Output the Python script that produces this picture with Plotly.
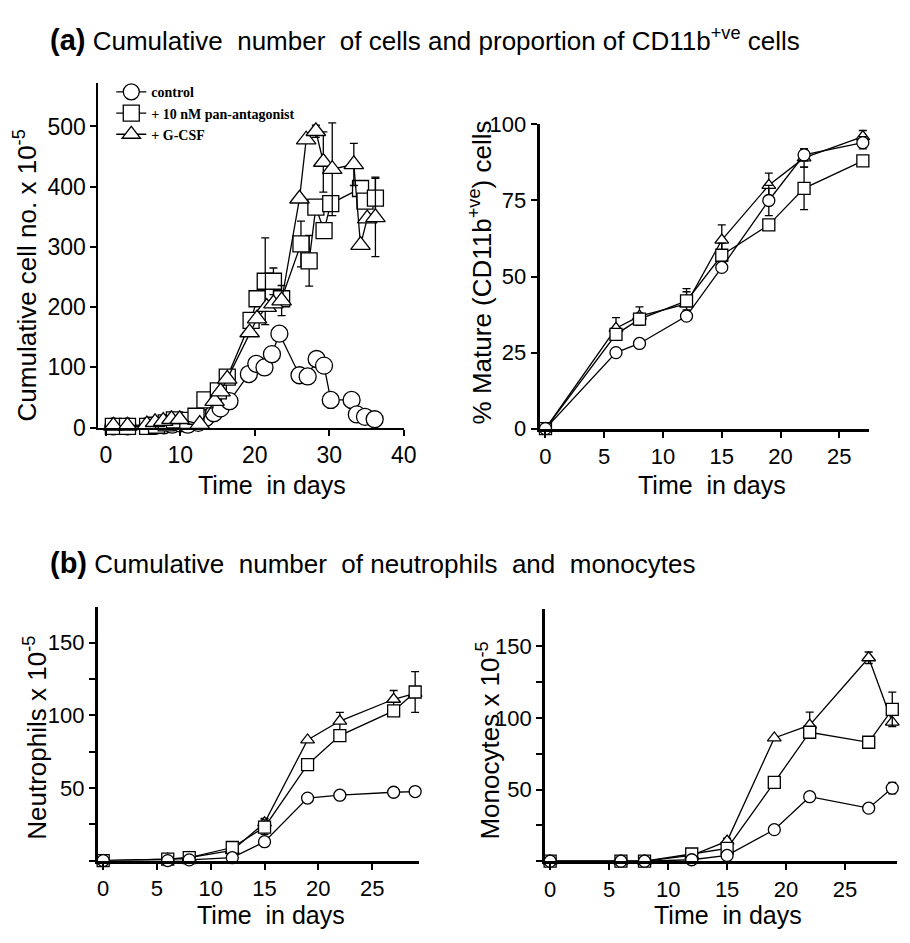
import plotly.graph_objects as go

# ---------------- Data ----------------
# (a) left: cumulative cell number x 10^-5
ctrl_day_a = [1.0, 2.9, 5.6, 6.7, 7.8, 8.9, 10.0, 11.0, 12.4, 13.4, 14.5, 15.4, 16.6, 19.2, 20.2, 21.3, 22.3, 23.3, 26.0, 27.1, 28.3, 29.3, 30.2, 33.0, 33.7, 34.8, 36.1]
ctrl_val_a = [2, 2, 3, 3, 4, 5, 7, 5, 8, 16, 24, 32, 44, 89, 106, 100, 122, 156, 87, 85, 114, 103, 46, 46, 22, 18, 14]
ctrl_err_a = [0] * 27

pan_day_a = [1.0, 2.9, 5.6, 6.8, 8.1, 9.2, 11.0, 12.1, 13.3, 15.1, 16.3, 19.5, 20.3, 21.4, 22.5, 23.6, 26.2, 27.3, 28.2, 29.3, 30.2, 34.2, 34.8, 36.2]
pan_val_a = [2, 2, 2, 4, 8, 13, 12, 19, 46, 61, 84, 178, 214, 243, 243, 214, 305, 277, 366, 327, 372, 397, 376, 381]
pan_err_a = [0, 0, 0, 0, 0, 0, 0, 0, 0, 0, 0, 0, 0, 72, 22, 0, 38, 42, 0, 0, 0, 0, 0, 35]

gcsf_day_a = [1.0, 2.9, 5.5, 6.6, 7.7, 8.8, 9.9, 12.6, 14.6, 15.4, 16.3, 19.3, 20.3, 21.6, 22.5, 23.6, 26.0, 26.9, 28.2, 29.2, 30.4, 33.3, 34.2, 35.1, 36.2]
gcsf_val_a = [3, 3, 5, 9, 11, 14, 14, 6, 44, 60, 81, 158, 181, 200, 206, 211, 380, 478, 492, 441, 429, 437, 303, 347, 349]
gcsf_err_a = [0, 0, 0, 0, 0, 0, 0, 0, 0, 0, 0, 0, 0, 0, 0, 25, 0, 0, 10, 50, 77, 35, 0, 0, 65]

# (a) right: % mature (CD11b+ve) cells
days_m = [0, 6, 8, 12, 15, 19, 22, 27]
ctrl_m = [0, 25, 28, 37, 53, 75, 90, 94]
pan_m = [0, 31, 36, 42, 57, 67, 79, 88]
gcsf_m = [0, 33, 37, 41, 62, 80, 89, 96]
ctrl_m_err = [0, 0, 0, 0, 0, 5, 2, 2]
pan_m_err = [0, 0, 2, 3, 4, 0, 7, 0]
gcsf_m_err = [0, 3.5, 3, 5, 5, 4, 3, 2]

# (b) neutrophils and monocytes x 10^-5
days_b = [0, 6, 8, 12, 15, 19, 22, 27, 29]
ctrl_neu = [0, 0, 0.5, 2, 13, 43, 45, 47, 47.5]
pan_neu = [0, 1, 2, 9, 23, 66, 86, 103, 116]
gcsf_neu = [0, 1, 2, 7, 26, 83, 96, 111, 115]
ctrl_neu_err = [0] * 9
pan_neu_err = [0, 0, 0, 0, 5, 0, 0, 0, 14]
gcsf_neu_err = [0, 0, 0, 0, 3, 0, 6, 6, 0]

ctrl_mono = [0, 0, 0, 1, 4, 22, 45, 37, 51]
pan_mono = [0, 0, 0, 5, 9, 55, 90, 83, 106]
gcsf_mono = [0, 0, 0, 4, 14, 86, 95, 142, 97]
ctrl_mono_err = [0, 0, 0, 0, 0, 0, 0, 0, 4]
pan_mono_err = [0, 0, 0, 0, 0, 0, 0, 3, 12]
gcsf_mono_err = [0, 0, 0, 0, 2, 0, 9, 4, 0]

legend_names = ["control", "+ 10 nM pan-antagonist", "+ G-CSF"]
symbols = ["circle", "square", "triangle-up"]

W, H = 910, 943
FONT = "Liberation Sans, Arial, sans-serif"

fig = go.Figure()


def add(x, y, err, sym, size, xa, ya, name=None, show=False):
    fig.add_trace(go.Scatter(
        x=x, y=y, mode="lines+markers",
        name=name, showlegend=show,
        xaxis=xa, yaxis=ya,
        line=dict(color="black", width=1.3),
        marker=dict(symbol=sym, size=size, color="white",
                    line=dict(color="black", width=1.3)),
        error_y=dict(type="data", array=err, visible=True, symmetric=True,
                     color="black", thickness=1.3, width=4),
        cliponaxis=False,
    ))


# panel 1 (top-left)
add(ctrl_day_a, ctrl_val_a, ctrl_err_a, symbols[0], 17, "x", "y", "<b>" + legend_names[0] + "</b>", True)
add(pan_day_a, pan_val_a, pan_err_a, symbols[1], 16, "x", "y", "<b>" + legend_names[1] + "</b>", True)
add(gcsf_day_a, gcsf_val_a, gcsf_err_a, symbols[2], 17, "x", "y", "<b>" + legend_names[2] + "</b>", True)

# panel 2 (top-right)
add(days_m, gcsf_m, gcsf_m_err, symbols[2], 12, "x2", "y2")
add(days_m, pan_m, pan_m_err, symbols[1], 12, "x2", "y2")
add(days_m, ctrl_m, ctrl_m_err, symbols[0], 12, "x2", "y2")

# panel 3 (bottom-left)
add(days_b, gcsf_neu, gcsf_neu_err, symbols[2], 12, "x3", "y3")
add(days_b, pan_neu, pan_neu_err, symbols[1], 12, "x3", "y3")
add(days_b, ctrl_neu, ctrl_neu_err, symbols[0], 12, "x3", "y3")

# panel 4 (bottom-right)
add(days_b, gcsf_mono, gcsf_mono_err, symbols[2], 12, "x4", "y4")
add(days_b, pan_mono, pan_mono_err, symbols[1], 12, "x4", "y4")
add(days_b, ctrl_mono, ctrl_mono_err, symbols[0], 12, "x4", "y4")


def px_x(p):
    return p / W


def px_y(p):
    return (H - p) / H


def ax(size, lw):
    return dict(showline=True, linecolor="black", linewidth=lw, ticks="outside", ticklen=6,
                tickwidth=2, tickcolor="black", showgrid=False, zeroline=False,
                tickfont=dict(family=FONT, size=size, color="black"))


minor_b = dict(tickvals=[0, 25, 75, 125], ticks="outside", ticklen=6, tickwidth=2,
               tickcolor="black", showgrid=False)

fig.update_layout(
    width=W, height=H, margin=dict(l=0, r=0, t=0, b=0),
    paper_bgcolor="white", plot_bgcolor="white",
    xaxis=dict(domain=[px_x(99), px_x(409)], range=[-1, 40], tickvals=[0, 10, 20, 30, 40],
               anchor="y", **ax(23, 2)),
    yaxis=dict(domain=[px_y(427), px_y(73)], range=[0, 572], tickvals=[0, 100, 200, 300, 400, 500],
               anchor="x", **ax(23, 2)),
    xaxis2=dict(domain=[px_x(547), px_x(882)], range=[-0.5, 27.56], tickvals=[0, 5, 10, 15, 20, 25],
                anchor="y2", **ax(22, 3)),
    yaxis2=dict(domain=[px_y(428), px_y(115.5)], range=[0, 100], tickvals=[0, 25, 50, 75, 100],
                anchor="x2", **ax(22, 3)),
    xaxis3=dict(domain=[px_x(98.3), px_x(425)], range=[-0.5, 29.4], tickvals=[0, 5, 10, 15, 20, 25],
                anchor="y3", **ax(22, 3)),
    yaxis3=dict(domain=[px_y(871.7), px_y(611)], range=[0, 174.6],
                tickvals=[50, 100, 150], minor=minor_b,
                anchor="x3", **ax(22, 3)),
    xaxis4=dict(domain=[px_x(552.7), 1.0], range=[-0.42, 29.4], tickvals=[0, 5, 10, 15, 20, 25],
                anchor="y4", **ax(22, 3)),
    yaxis4=dict(domain=[px_y(872.3), px_y(613.3)], range=[0, 176],
                tickvals=[50, 100, 150], minor=minor_b,
                anchor="x4", **ax(22, 3)),
    legend=dict(x=px_x(112), y=px_y(66), xanchor="left", yanchor="top",
                bgcolor="rgba(0,0,0,0)", borderwidth=0,
                font=dict(family="Liberation Serif, Times New Roman, serif", size=14, color="black"),
                itemwidth=30, tracegroupgap=0),
)

annots = []
TF = dict(family=FONT, size=26, color="black")
HF = dict(family=FONT, size=26, color="black")
# headings
annots.append(dict(x=px_x(48), y=px_y(28), xref="paper", yref="paper", xanchor="left", yanchor="middle",
                   showarrow=False, font=HF,
                   text="<b><span style='font-size:29px'>(a)</span></b> Cumulative\u00a0 number\u00a0 of cells and proportion of CD11b<sup>+ve</sup> cells"))
annots.append(dict(x=px_x(48), y=px_y(566), xref="paper", yref="paper", xanchor="left", yanchor="middle",
                   showarrow=False, font=HF,
                   text="<b><span style='font-size:29px'>(b)</span></b> Cumulative\u00a0 number\u00a0 of neutrophils\u00a0 and\u00a0 monocytes"))
# y titles
for txt, xx, yy in [("Cumulative cell no. x 10<sup>-5</sup>", 25, 271),
                    ("% Mature (CD11b<sup>+ve</sup>) cells", 487, 268),
                    ("Neutrophils x 10<sup>-5</sup>", 35, 745),
                    ("Monocytes x 10<sup>-5</sup>", 495, 748)]:
    annots.append(dict(x=px_x(xx), y=px_y(yy), xref="paper", yref="paper", xanchor="center", yanchor="middle",
                       showarrow=False, textangle=-90, font=TF, text=txt))
# x titles
for xx, yy in [(275, 486), (722, 486), (274, 928), (738, 928)]:
    annots.append(dict(x=px_x(xx), y=px_y(yy), xref="paper", yref="paper", xanchor="center", yanchor="middle",
                       showarrow=False, font=dict(family=FONT, size=25, color="black"), text="Time\u00a0 in days"))

fig.update_layout(annotations=annots)
fig.write_html("out.html", config={"displayModeBar": False},
               post_script="document.body.style.margin='0';document.body.style.overflow='hidden';")
